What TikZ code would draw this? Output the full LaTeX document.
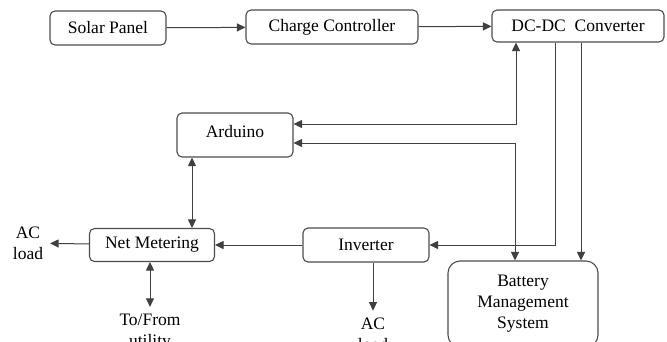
\documentclass[tikz,border=0pt]{standalone}
\usepackage{fontspec}
\setmainfont{Liberation Serif}
\usetikzlibrary{arrows.meta}
\begin{document}
\begin{tikzpicture}[
    x=1pt, y=-1pt,
    font=\fontsize{17.5}{21}\selectfont,
    block/.style={
        draw=black!70, line width=1.1pt, rounded corners=5pt, fill=white,
        minimum height=34pt, align=center, inner sep=2pt
    },
    label/.style={align=center, inner sep=3pt, outer sep=4pt},
    arrow/.style={-{Triangle[length=8.5pt,width=8pt]}, line width=1pt, draw=black!75},
    twoway/.style={{Triangle[length=8.5pt,width=8pt]}-{Triangle[length=8.5pt,width=8pt]}, line width=1pt, draw=black!75}
]
\clip (0,0) rectangle (667,341);

% Top row
\node[block, minimum width=116pt] (solar)  at (108,28) {Solar Panel};
\node[block, minimum width=172pt] (charge) at (332,27) {Charge Controller};
\node[block, minimum width=172pt, minimum height=32pt] (dcdc) at (578,26) {DC-DC\ \ Converter};

% Middle and bottom blocks
\node[block, minimum width=116pt, minimum height=44pt, text depth=8pt] (arduino) at (235,135) {Arduino};
\node[block, minimum width=125pt, minimum height=33pt] (netm) at (152,245) {Net Metering};
\node[block, minimum width=126pt] (inverter) at (366,245) {Inverter};
\node[block, minimum width=150pt, minimum height=86pt, rounded corners=12pt] (bms) at (523,304)
    {Battery\\Management\\System};

% Loose labels
\node[label] (acleft) at (28,243) {AC\\load};
\node[label] (utility) at (150,332) {To/From\\utility};
\node[label] (acdown) at (373,334) {AC\\load};

\draw[arrow] (solar) -- (charge);
\draw[arrow] (charge) -- (dcdc);

% DC-DC outputs
\draw[arrow] ([xshift=-23pt]dcdc.south) |- (inverter.east);
\draw[arrow] ([xshift=3pt]dcdc.south) -- ([xshift=3pt]dcdc.south |- bms.north);

% Arduino links
\draw[twoway] ([yshift=11pt]arduino.east) -| ([xshift=-62pt]dcdc.south);
\draw[twoway] ([yshift=-8pt]arduino.east) -| ([xshift=-8pt]bms.north);
\draw[twoway] ([xshift=-43pt]arduino.south) -- ([xshift=-43pt]arduino.south |- netm.north);

% AC side
\draw[arrow] (inverter) -- (netm);
\draw[arrow] (netm) -- (acleft);
\draw[twoway] (netm.south -| utility) -- (utility);
\draw[arrow] (inverter.south -| acdown) -- (acdown);

\end{tikzpicture}
\end{document}
